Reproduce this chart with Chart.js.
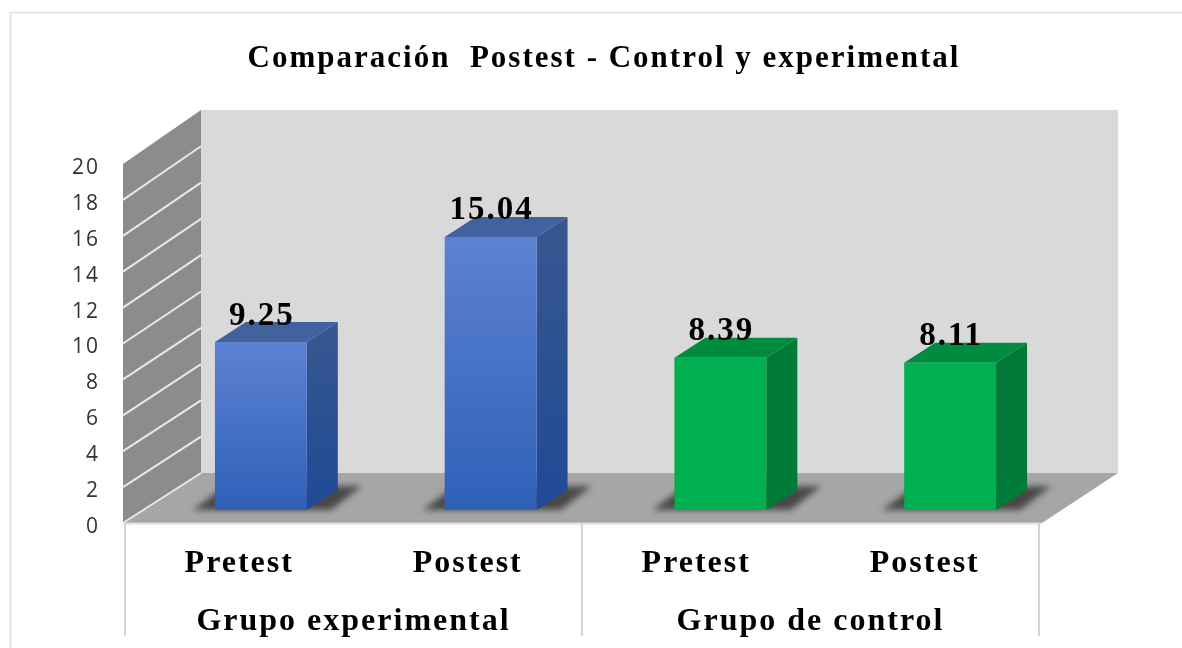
<!DOCTYPE html>
<html><head><meta charset="utf-8">
<style>html,body{margin:0;padding:0;background:#fff}canvas{display:block}</style>
<script src="https://cdn.jsdelivr.net/npm/chart.js@4"></script>
</head><body><canvas id="c" width="1182" height="648"></canvas>
<script>
const chartTitle = 'Comparación  Postest - Control y experimental';
const categories = ['Pretest','Postest','Pretest','Postest'];
const groups = ['Grupo experimental','Grupo de control'];
const values = [9.25,15.04,8.39,8.11];
const yTicksStep = 2;
const frontTop = ['#5c82d2','#5c82d2','#00b050','#00b050'];
const frontBottom = ['#2f60b8','#2f60b8','#00b050','#00b050'];
const sideTop = ['#38578f','#38578f','#007a37','#007a37'];
const sideBottom = ['#1f4a96','#1f4a96','#007a37','#007a37'];
const topColor = ['#41629f','#41629f','#008c3e','#008c3e'];

const WALL_DX = 78, WALL_TOP_DY = 54, WALL_BOTTOM_DY = 50, TICK_SHIFT = 4;
const BAR_DX = 23, DEPTH_X = 31, DEPTH_Y = 20, SPACING = '2px';

function poly(ctx, pts, fill){
  ctx.beginPath();
  pts.forEach((p,i)=> i ? ctx.lineTo(p[0],p[1]) : ctx.moveTo(p[0],p[1]));
  ctx.closePath();
  if (fill) { ctx.fillStyle = fill; ctx.fill(); }
}

const scene = {
  id:'scene',
  afterLayout(chart){
    chart.titleBlock.left = 10;
    chart.titleBlock.right = 1198;
    const y = chart.scales.y;
    y.top += TICK_SHIFT; y.bottom += TICK_SHIFT; y.configure();
    [chart.scales.x, chart.scales.xGroup].forEach(s=>{
      s.left += 2; s.right -= 3; s.width = s.right - s.left; s.configure();
    });
  },
  beforeDraw(chart){
    const ctx = chart.ctx, y = chart.scales.y, a = chart.chartArea;
    ctx.letterSpacing = SPACING;
    const L=a.left, R=a.right, T=a.top, B=a.bottom;
    ctx.save();
    ctx.strokeStyle='#e0e0e0'; ctx.lineWidth=1.5;
    ctx.beginPath(); ctx.moveTo(10.5,648); ctx.lineTo(10.5,12.5); ctx.lineTo(1182,12.5); ctx.stroke();
    poly(ctx,[[L+WALL_DX,T-WALL_TOP_DY],[R+WALL_DX-2,T-WALL_TOP_DY],[R+WALL_DX-2,B-WALL_BOTTOM_DY],[L+WALL_DX,B-WALL_BOTTOM_DY]],'#d9d9d9');
    poly(ctx,[[L,T],[L+WALL_DX,T-WALL_TOP_DY],[L+WALL_DX,B-WALL_BOTTOM_DY],[L,B]],'#8c8c8c');
    poly(ctx,[[L,B],[L+WALL_DX,B-WALL_BOTTOM_DY],[R+WALL_DX-2,B-WALL_BOTTOM_DY],[R,B]],'#a6a6a6');
    ctx.strokeStyle='#e8e8e8'; ctx.lineWidth=2;
    y.ticks.forEach(t=>{
      if (t.value===20) return;
      const p=y.getPixelForValue(t.value)-TICK_SHIFT;
      const frac=t.value/20, back=frac*WALL_TOP_DY+(1-frac)*WALL_BOTTOM_DY;
      ctx.beginPath(); ctx.moveTo(L,p); ctx.lineTo(L+WALL_DX,p-back); ctx.stroke();
    });
    ctx.strokeStyle='#dedede'; ctx.lineWidth=2;
    ctx.beginPath(); ctx.moveTo(L,B+0.5); ctx.lineTo(R,B+0.5); ctx.stroke();
    ctx.restore();
  },
  beforeDatasetsDraw(chart){
    const ctx = chart.ctx, bars = chart.getDatasetMeta(0).data;
    ctx.save();
    ctx.translate(BAR_DX,0);
    bars.forEach((b)=>{
      const l=b.x-b.width/2, r=b.x+b.width/2, base=b.base;
      ctx.save();
      ctx.filter='blur(3px)';
      poly(ctx,[[l-22,base],[l+8,base-22],[r+DEPTH_X+24,base-24],[r+24,base]],'#484848');
      ctx.restore();
    });
    bars.forEach((b,i)=>{
      const l=b.x-b.width/2, r=b.x+b.width/2, top=b.y, base=b.base;
      const g=ctx.createLinearGradient(0,top-DEPTH_Y,0,base);
      g.addColorStop(0,sideTop[i]); g.addColorStop(1,sideBottom[i]);
      poly(ctx,[[r,top],[r+DEPTH_X,top-DEPTH_Y],[r+DEPTH_X,base-DEPTH_Y],[r,base]],g);
      poly(ctx,[[l,top],[l+DEPTH_X,top-DEPTH_Y],[r+DEPTH_X,top-DEPTH_Y],[r,top]],topColor[i]);
    });
  },
  afterDatasetsDraw(chart){
    const ctx = chart.ctx, bars = chart.getDatasetMeta(0).data;
    ctx.font='bold 33px "Liberation Serif"';
    ctx.fillStyle='#000'; ctx.textAlign='center'; ctx.textBaseline='middle';
    bars.forEach((b,i)=> ctx.fillText(values[i].toFixed(2), b.x+1, b.y-26));
    ctx.restore();
  }
};

new Chart(document.getElementById('c').getContext('2d'),{
  type:'bar',
  data:{labels:categories,datasets:[{
    data:values, xAxisID:'xBars', yAxisID:'yBars', clip:false,
    barPercentage:0.4, categoryPercentage:1, borderWidth:0,
    backgroundColor(c){
      const i=c.dataIndex, s=c.chart.scales.yBars;
      if(!s||i===undefined) return frontBottom[0];
      const y0=s.getPixelForValue(values[i]), y1=s.getPixelForValue(0);
      if(!isFinite(y0)||!isFinite(y1)) return frontBottom[i];
      const g=c.chart.ctx.createLinearGradient(0,y0,0,y1);
      g.addColorStop(0,frontTop[i]); g.addColorStop(1,frontBottom[i]);
      return g;
    }
  }]},
  plugins:[scene],
  options:{
    responsive:false, animation:false,
    layout:{padding:{left:10,right:140,top:0,bottom:9}},
    plugins:{
      legend:{display:false}, tooltip:{enabled:false},
      title:{display:true,text:chartTitle,color:'#000',
        font:{family:'"Liberation Serif"',size:31,weight:'bold'},
        padding:{top:40,bottom:86.8}}
    },
    scales:{
      xBars:{type:'category',labels:categories,position:'bottom',display:false,offset:true},
      x:{type:'category',labels:categories,position:'bottom',offset:true,
        afterFit(s){s.height=58;},
        border:{display:false},
        grid:{offset:true,drawOnChartArea:false,tickLength:58,lineWidth:2,
          color(c){return (c.index===undefined||c.index%2===0)?'#d4d4d4':'rgba(0,0,0,0)';}},
        ticks:{padding:-36,color:'#000',maxRotation:0,autoSkip:false,
          font:{family:'"Liberation Serif"',size:32,weight:'bold'}}},
      xGroup:{type:'category',labels:groups,position:'bottom',offset:true,
        afterFit(s){s.height=58;},
        border:{display:false},
        grid:{offset:true,drawOnChartArea:false,tickLength:55,lineWidth:2,color:'#d4d4d4'},
        ticks:{padding:-33,color:'#000',maxRotation:0,autoSkip:false,
          font:{family:'"Liberation Serif"',size:32,weight:'bold'}}},
      y:{type:'linear',position:'left',min:0,max:20,
        afterFit(s){s.width=113;},
        border:{display:false},
        grid:{display:false},
        ticks:{stepSize:yTicksStep,padding:15,color:'#333333',
          font:{family:'"Open Sans"',size:21}}},
      yBars:{type:'linear',position:'left',display:false,min:-0.716,max:19.053}
    }
  }
});
</script></body></html>
